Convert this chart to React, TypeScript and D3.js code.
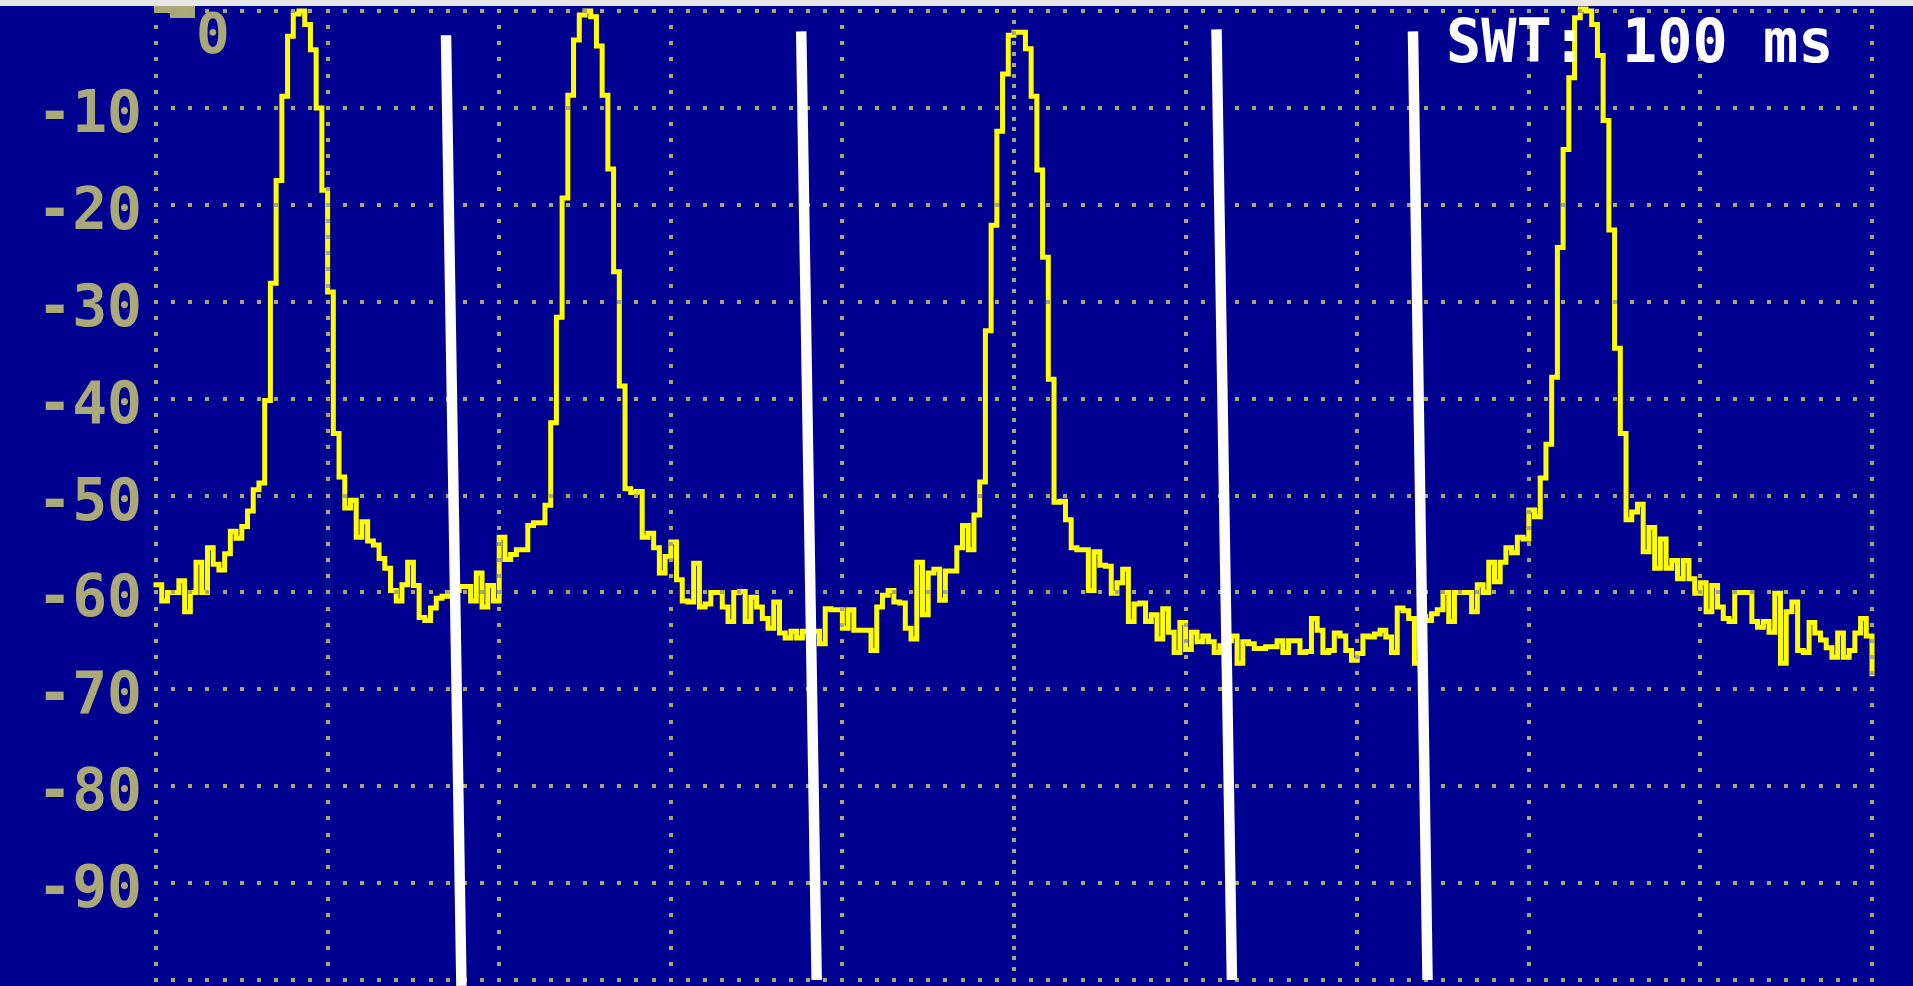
import { curveStepAfter, line, range, scaleLinear } from "d3";

// sweep time shown on screen, ms
const SWEEP_MS = 100;
const SWT_LABEL = "SWT: 100 ms";

const GRID_DB = range(0, -101, -10);
const GRID_MS = range(0, SWEEP_MS + 1, 10);
const Y_TICKS = [-10, -20, -30, -40, -50, -60, -70, -80, -90];

// trace, one value per screen column (301 columns over the sweep), dB
const TRACE_DB = [
  -59.2, -60.9, -60.0, -60.0, -58.8, -62.0, -60.0, -56.9, -60.0, -55.4,
  -57.1, -57.7, -56.0, -53.7, -54.4, -53.2, -51.6, -49.4, -48.7, -40.2,
  -28.1, -17.5, -8.8, -2.6, -0.3, 0.0, -1.4, -4.0, -10.0, -18.5,
  -29.0, -43.6, -48.1, -51.3, -50.5, -54.3, -52.7, -54.7, -55.1, -56.5,
  -57.5, -59.8, -60.9, -59.2, -56.9, -59.3, -62.6, -62.9, -61.6, -60.6,
  -60.4, -60.0, -59.8, -59.4, -59.4, -60.9, -58.0, -61.5, -59.3, -60.9,
  -54.3, -56.6, -56.1, -55.6, -55.6, -53.1, -52.8, -52.8, -51.0, -42.5,
  -31.6, -19.3, -8.7, -3.0, -0.4, 0.0, -0.6, -3.6, -8.7, -16.3,
  -26.9, -38.7, -49.3, -49.7, -49.6, -54.3, -53.9, -55.4, -58.0, -56.3,
  -54.8, -58.7, -60.9, -61.0, -57.0, -61.5, -61.2, -60.0, -60.0, -61.5,
  -63.0, -60.0, -59.9, -63.0, -60.5, -61.5, -62.7, -63.7, -61.0, -64.2,
  -64.7, -64.0, -64.7, -64.0, -64.5, -64.0, -65.3, -61.7, -61.8, -61.8,
  -63.7, -61.8, -63.9, -63.9, -63.9, -66.0, -61.5, -60.3, -59.8, -61.0,
  -61.1, -63.7, -64.8, -56.9, -62.3, -58.0, -57.6, -60.8, -57.8, -57.8,
  -55.4, -53.1, -55.6, -52.0, -48.6, -33.0, -22.1, -12.4, -6.5, -2.5,
  -2.2, -2.2, -3.9, -8.8, -16.4, -25.4, -38.0, -50.7, -50.6, -52.5,
  -55.4, -55.6, -55.6, -59.8, -55.8, -57.2, -57.3, -60.1, -59.0, -57.6,
  -63.0, -61.2, -61.1, -63.0, -62.3, -64.8, -61.7, -64.1, -66.2, -63.1,
  -65.9, -64.1, -65.1, -64.5, -65.1, -66.2, -65.5, -65.0, -64.5, -67.3,
  -65.1, -65.3, -65.8, -65.8, -65.6, -65.6, -65.0, -66.2, -65.0, -65.0,
  -66.2, -66.1, -62.7, -63.9, -66.2, -66.0, -64.2, -64.5, -66.0, -67.0,
  -66.3, -64.5, -64.6, -64.3, -63.9, -64.6, -66.2, -61.6, -61.9, -62.7,
  -67.3, -62.5, -62.9, -62.2, -61.8, -60.0, -63.0, -60.0, -60.0, -60.0,
  -62.0, -59.2, -60.0, -56.9, -58.9, -56.9, -55.4, -55.9, -54.3, -54.5,
  -51.5, -52.2, -48.2, -44.7, -37.8, -24.4, -14.3, -6.9, -0.7, 0.2,
  0.0, -1.4, -4.6, -11.3, -22.6, -34.8, -43.6, -52.5, -51.7, -50.9,
  -55.8, -53.3, -57.5, -54.5, -57.5, -56.7, -58.6, -56.7, -58.6, -60.1,
  -59.0, -62.0, -59.3, -61.5, -62.7, -63.0, -60.0, -60.0, -60.0, -63.0,
  -63.6, -63.0, -64.1, -60.1, -67.3, -62.0, -61.0, -66.0, -66.2, -63.1,
  -64.2, -64.9, -65.7, -66.7, -64.2, -66.7, -66.0, -64.2, -62.7, -64.5,
  -68.4,
];

// white hand-drawn divider lines, ends in ms / dB
const MARKER_TOP_MS = [16.9, 37.6, 61.8, 73.25];
const MARKER_TOP_DB = [-2.5, -2.1, -1.9, -2.1];
const MARKER_BOTTOM_MS = [17.8, 38.5, 62.7, 74.1];
const MARKER_BOTTOM_DB = [-100.6, -100, -100, -100];

const WIDTH = 1913;
const HEIGHT = 986;
const BG = "#000090";
const GRID = "#aaa777";
const LABEL = "#aca978";
const FONT = "'DejaVu Sans Mono', 'Liberation Mono', monospace";

export default function App() {
  const x = scaleLinear().domain([0, SWEEP_MS]).range([156, 1872]);
  const y = scaleLinear().domain([-100, 0]).range([980, 11]);

  const step = SWEEP_MS / (TRACE_DB.length - 1);
  const tracePath = line<number>()
    .x((_, i) => x(i * step))
    .y((d) => y(d))
    .curve(curveStepAfter)(TRACE_DB);

  const hPeriod = (x(10) - x(0)) / 10;
  const vPeriod = (y(-10) - y(0)) / 6;
  const centerPeriod = (y(-10) - y(0)) / 9;

  return (
    <svg
      width={WIDTH}
      height={HEIGHT}
      style={{ position: "absolute", left: 0, top: 0, display: "block" }}
    >
      <rect x={0} y={0} width={WIDTH} height={HEIGHT} fill={BG} />
      <rect x={0} y={0} width={WIDTH} height={6} fill="#e6e6e6" />

      {/* y labels */}
      {Y_TICKS.map((v) => (
        <text
          key={v}
          x={142}
          y={y(v) + 24}
          textAnchor="end"
          fontFamily={FONT}
          fontWeight="bold"
          fontSize={58}
          fill={LABEL}
        >
          {v}
        </text>
      ))}
      {/* clipped reference label at the top */}
      <path d="M154,6H195V18H170V13H154Z" fill={LABEL} />
      <text x={196} y={52} fontFamily={FONT} fontWeight="bold" fontSize={56} fill={LABEL}>
        0
      </text>

      <path
        d={tracePath ?? ""}
        fill="none"
        stroke="#ffff00"
        strokeWidth={5}
        strokeLinejoin="miter"
        strokeLinecap="square"
      />

      {/* graticule */}
      <g shapeRendering="crispEdges">
        {GRID_DB.map((v) => (
          <line
            key={`h${v}`}
            x1={x(0) - 2}
            x2={x(SWEEP_MS) + 2}
            y1={y(v)}
            y2={y(v)}
            stroke={GRID}
            strokeWidth={4}
            strokeDasharray={`4 ${hPeriod - 4}`}
          />
        ))}
        {GRID_MS.map((t) => {
          const center = t === SWEEP_MS / 2;
          const period = center ? centerPeriod : vPeriod;
          return (
            <line
              key={`v${t}`}
              x1={x(t)}
              x2={x(t)}
              y1={y(0) - 2}
              y2={y(-100) + 2}
              stroke={GRID}
              strokeWidth={4}
              strokeDasharray={`4 ${period - 4}`}
            />
          );
        })}
      </g>

      {MARKER_TOP_MS.map((t, i) => (
        <line
          key={`m${i}`}
          x1={x(t)}
          y1={y(MARKER_TOP_DB[i])}
          x2={x(MARKER_BOTTOM_MS[i])}
          y2={y(MARKER_BOTTOM_DB[i])}
          stroke="#ffffff"
          strokeWidth={10.5}
        />
      ))}

      <text
        transform="translate(1446,62) scale(0.975,1)"
        fontFamily={FONT}
        fontWeight="bold"
        fontSize={60}
        fill="#ffffff"
      >
        {SWT_LABEL}
      </text>
    </svg>
  );
}
